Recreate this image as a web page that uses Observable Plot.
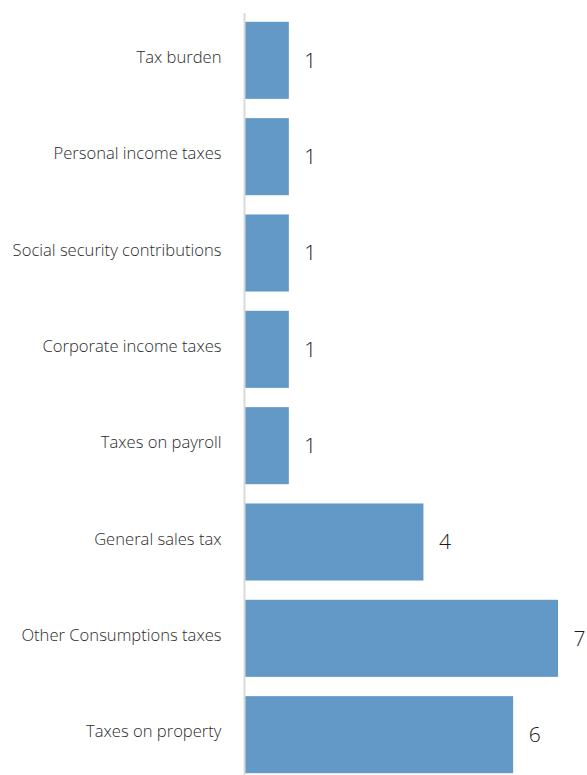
<!DOCTYPE html>
<html>
<head>
<meta charset="utf-8">
<script src="https://cdn.jsdelivr.net/npm/d3@7"></script>
<script src="https://cdn.jsdelivr.net/npm/@observablehq/plot@0.6"></script>
<style>
  html, body { margin: 0; padding: 0; background: #fff; }
  #chart svg { display: block; overflow: visible; }
</style>
</head>
<body>
<div id="chart"></div>
<script>
const categories = [
  "Tax burden",
  "Personal income taxes",
  "Social security contributions",
  "Corporate income taxes",
  "Taxes on payroll",
  "General sales tax",
  "Other Consumptions taxes",
  "Taxes on property"
];
const values = [1, 1, 1, 1, 1, 4, 7, 6];

const data = categories.map((c, i) => ({category: c, value: values[i]}));

const chart = Plot.plot({
  width: 587,
  height: 775,
  marginTop: 13,
  marginBottom: 0,
  marginLeft: 244,
  marginRight: 29,
  style: {fontFamily: "'Open Sans', sans-serif", background: "#fff", overflow: "visible"},
  x: {domain: [0, 7], axis: null},
  y: {domain: categories, paddingInner: 0.2, paddingOuter: 0.055, align: 0.83, round: false, label: null},
  marks: [
    Plot.barX(data, {x: "value", y: "category", fill: "#6399c7", insetLeft: 1}),
    Plot.ruleX([0], {stroke: "#d9d9d9", strokeWidth: 2}),
    Plot.axisY({tickSize: 0, tickPadding: 23, fontSize: 16.6, fontWeight: 300, color: "#2b2b2b", dy: -3, label: null}),
    Plot.text(data, {x: "value", y: "category", text: d => String(d.value), textAnchor: "start", dx: 15, dy: 0, fontSize: 21, fontWeight: 300, fill: "#1a1a1a"})
  ]
});
document.getElementById("chart").appendChild(chart);
</script>
</body>
</html>
